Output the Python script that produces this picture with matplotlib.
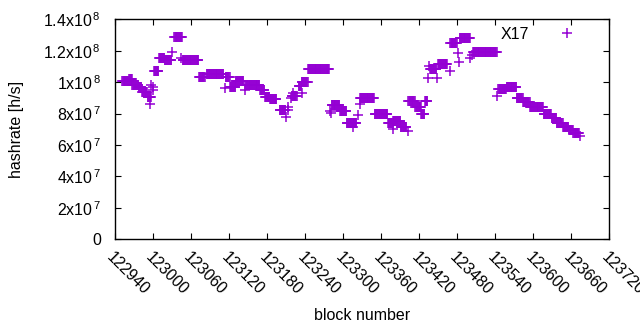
import numpy as np
import matplotlib
matplotlib.use("Agg")
import matplotlib.pyplot as plt

plt.rcParams["font.family"] = ["Liberation Sans", "DejaVu Sans"]
plt.rcParams["mathtext.fontset"] = "custom"
plt.rcParams["mathtext.rm"] = "Liberation Sans"
plt.rcParams["mathtext.it"] = "Liberation Sans"

# runs of constant estimated hashrate (first block, last block, value in 1e6 h/s)
run_start = [122952, 122963, 122968, 122978, 122983, 122992, 123002, 123010, 123019,
             123034, 123047, 123073, 123085, 123115, 123122, 123131, 123146, 123169,
             123177, 123185, 123200, 123219, 123230, 123235, 123245, 123282, 123295,
             123306, 123327, 123350, 123371, 123379, 123391, 123403, 123414, 123424,
             123429, 123437, 123450, 123469, 123484, 123505, 123545, 123558, 123574,
             123584, 123595, 123616, 123629, 123637, 123647, 123656, 123663]
run_end = [122962, 122967, 122977, 122982, 122991, 122997, 123009, 123018, 123029,
           123046, 123072, 123082, 123111, 123121, 123130, 123143, 123168, 123176,
           123184, 123195, 123209, 123227, 123234, 123244, 123278, 123294, 123305,
           123321, 123349, 123370, 123378, 123390, 123400, 123413, 123423, 123428,
           123433, 123447, 123464, 123479, 123500, 123542, 123557, 123573, 123583,
           123594, 123615, 123628, 123636, 123646, 123655, 123662, 123672]
run_value = [100.5, 102.3, 98.0, 96.7, 94.0, 90.5, 106.9, 115.4, 113.9,
             128.5, 114.4, 103.1, 105.2, 103.0, 96.7, 100.5, 98.0, 95.0,
             90.7, 89.0, 82.3, 91.4, 97.6, 100.3, 108.2, 85.3, 81.6,
             73.8, 89.7, 79.7, 73.8, 75.5, 71.7, 88.3, 84.2, 80.0,
             88.3, 108.5, 111.4, 124.9, 127.9, 119.0, 95.5, 96.7, 89.7,
             87.6, 84.0, 79.5, 77.4, 73.8, 71.7, 69.6, 67.8]

# single outlying blocks
single_block = [122996, 122998, 123000, 123000, 123031, 123044, 123114, 123145,
                123210, 123214, 123214, 123218, 123221, 123235, 123280, 123281,
                123315, 123323, 123326, 123378, 123403, 123423, 123434, 123436,
                123448, 123468, 123482, 123483, 123500, 123504, 123542, 123673]
single_value = [86.0, 98.2, 97.0, 95.0, 119.0, 115.5, 96.1, 95.0,
                77.6, 84.0, 82.0, 89.7, 92.9, 92.9, 81.8, 80.5,
                71.7, 79.0, 85.9, 70.4, 68.9, 79.5, 102.4, 110.5,
                102.4, 106.9, 118.4, 112.6, 115.2, 117.3, 91.4, 66.0]

x_ticks = list(range(122940, 123721, 60))
y_ticks = [0, 2e7, 4e7, 6e7, 8e7, 1e8, 1.2e8, 1.4e8]
y_tick_labels = ["0", "2x10$^{\\,7}$", "4x10$^{\\,7}$", "6x10$^{\\,7}$", "8x10$^{\\,7}$",
                 "1x10$^{\\,8}$", "1.2x10$^{\\,8}$", "1.4x10$^{\\,8}$"]

blocks = []
rates = []
for s, e, v in zip(run_start, run_end, run_value):
    for b in range(s, e + 1):
        blocks.append(b)
        rates.append(v * 1e6)
blocks += single_block
rates += [v * 1e6 for v in single_value]

COLOR = "#9400d3"
FS = 11.5

fig = plt.figure(figsize=(6.4, 3.3), dpi=100)
ax = fig.add_axes([0.1792, 0.2748, 0.7731, 0.6667])

ax.plot(blocks, rates, linestyle="none", marker="+", markersize=6.5,
        markeredgewidth=1.1, color=COLOR, label="X17")

ax.set_xlim(122940, 123720)
ax.set_ylim(0, 1.4e8)
ax.set_xticks(x_ticks)
ax.set_xticklabels([str(t) for t in x_ticks], rotation=-45, ha="left", va="top",
                   rotation_mode="anchor", fontsize=FS)
ax.set_yticks(y_ticks)
ax.set_yticklabels(y_tick_labels, fontsize=FS)
ax.tick_params(direction="in", length=4.5, width=0.8, top=True, right=True)
ax.tick_params(axis="x", pad=7)
ax.tick_params(axis="y", pad=10)
for sp in ax.spines.values():
    sp.set_linewidth(1.0)

ax.set_xlabel("block number", fontsize=FS, labelpad=8)
ax.set_ylabel("hashrate [h/s]", fontsize=FS, labelpad=14)

ax.legend(loc="upper right", markerfirst=False, frameon=False, fontsize=FS,
          handlelength=2.2, handletextpad=1.3, borderaxespad=0.2,
          bbox_to_anchor=(0.97, 1.01), markerscale=1.0)

for lab in ax.get_xticklabels():
    lab.set_clip_on(False)

fig.savefig("out.png", dpi=100)
